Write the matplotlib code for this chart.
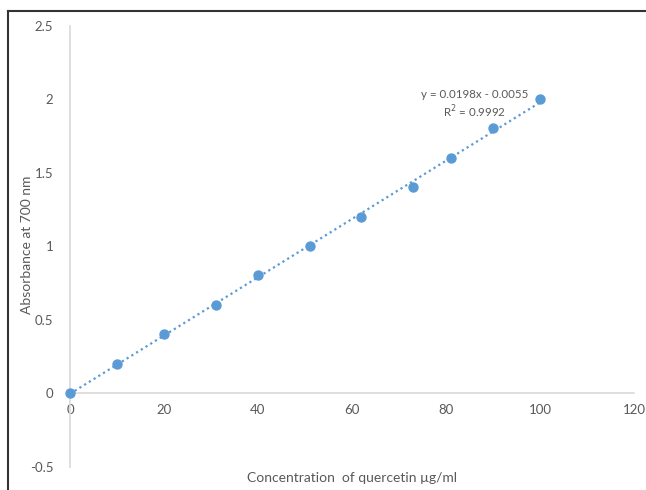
import numpy as np
import matplotlib
matplotlib.use("Agg")
import matplotlib.pyplot as plt
from matplotlib.lines import Line2D

plt.rcParams['font.family'] = ['Lato', 'DejaVu Sans']

# quercetin standard curve
conc = [0, 10, 20, 31, 40, 51, 62, 73, 81, 90, 100]
absorb = [0, 0.2, 0.4, 0.6, 0.8, 1.0, 1.2, 1.4, 1.6, 1.8, 2.0]
x_ticks = [0, 20, 40, 60, 80, 100, 120]
y_ticks = [-0.5, 0, 0.5, 1, 1.5, 2, 2.5]
eq_text = "y = 0.0198x - 0.0055"
r2_text = "R$^2$ = 0.9992"

blue = '#5B9BD5'
grey_txt = '#595959'
grey_ax = '#D9D9D9'

W, H = 646, 490
fig = plt.figure(figsize=(W / 100, H / 100), dpi=100)
ax = fig.add_axes([70 / W, 1 - 466.5 / H, (634 - 70) / W, (466.5 - 25.5) / H])

ax.scatter(conc, absorb, s=42, color=blue, zorder=3, clip_on=False)
k, b = np.polyfit(conc, absorb, 1)
xs = np.array([conc[0], conc[-1]])
ax.plot(xs, k * xs + b, linestyle=(0, (1, 1.5)), color=blue, linewidth=1.6, zorder=2)

ax.set_xlim(0, 120)
ax.set_ylim(-0.5, 2.5)
ax.set_xticks(x_ticks)
ax.set_xticklabels([str(t) for t in x_ticks])
ax.set_yticks(y_ticks)
ax.set_yticklabels(['-0.5', '0', '0.5', '1', '1.5', '2', '2.5'])

for s in ['top', 'right']:
    ax.spines[s].set_visible(False)
ax.spines['bottom'].set_position(('data', 0))
ax.spines['left'].set_color(grey_ax)
ax.spines['bottom'].set_color(grey_ax)
ax.spines['left'].set_linewidth(1.2)
ax.spines['bottom'].set_linewidth(1.2)
ax.tick_params(axis='y', length=0, pad=12, labelsize=9.5, labelcolor=grey_txt)
ax.tick_params(axis='x', length=0, pad=8, labelsize=9.5, labelcolor=grey_txt)

ax.text(86, 2.03, eq_text, ha='center', va='center', fontsize=8.3, color=grey_txt)
ax.text(86, 1.915, r2_text, ha='center', va='center', fontsize=8.3, color=grey_txt)

fig.text(27 / W, 1 - 245 / H, 'Absorbance at 700 nm', rotation=90, ha='center', va='center',
         fontsize=10, color=grey_txt)
fig.text(352 / W, 1 - 478 / H, 'Concentration  of quercetin \u00b5g/ml', ha='center', va='center',
         fontsize=10, color=grey_txt)

# frame of the cropped screenshot
fig.add_artist(Line2D([8 / W, 8 / W], [0, 1 - 11 / H], transform=fig.transFigure, color='#333333', lw=1.5))
fig.add_artist(Line2D([8 / W, 1], [1 - 11 / H, 1 - 11 / H], transform=fig.transFigure, color='#333333', lw=1.5))

fig.savefig('out.png', dpi=100)
